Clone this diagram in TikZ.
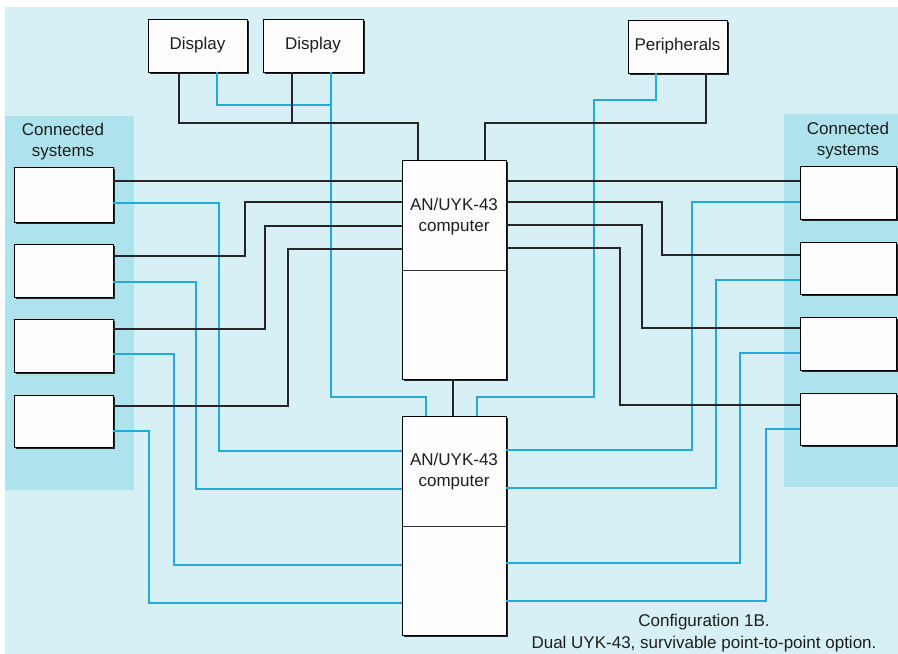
\documentclass[tikz,border=0pt]{standalone}
\usepackage{fontspec}
\setmainfont{Liberation Sans}
\usetikzlibrary{shadows}
\definecolor{bgc}{HTML}{D6F0F6}
\definecolor{panelc}{HTML}{AEE3EE}
\definecolor{bluec}{HTML}{22A9DD}
\definecolor{boxc}{HTML}{FDFDFE}
\definecolor{txtc}{HTML}{1E1E1E}
\begin{document}
\begin{tikzpicture}[x=1pt,y=-1pt,
  sbox/.style={draw=black, line width=0.8pt, fill=boxc, inner sep=0pt,
    drop shadow={shadow xshift=1.8pt, shadow yshift=-1.8pt, fill=black!85, opacity=1},
    font=\fontsize{17}{21}\selectfont, text=txtc, align=center},
  blk/.style={draw=black!85, line width=1.3pt, line join=miter},
  blu/.style={draw=bluec, line width=1.3pt, line join=miter},
  lbl/.style={font=\fontsize{17}{21}\selectfont, text=txtc, align=center, inner sep=0pt}]
\useasboundingbox (0,0) rectangle (898,654);
\fill[white] (0,0) rectangle (898,654);
\fill[bgc] (5,7) rectangle (898,654);
\fill[panelc] (5,116) rectangle (134,490);
\fill[panelc] (784,114) rectangle (898,487);

% top boxes
\node[sbox, minimum width=99pt, minimum height=53pt] (D1) at (197.5,45.5) {Display};
\node[sbox, minimum width=100pt, minimum height=53pt] (D2) at (313,45.5) {Display};
\node[sbox, minimum width=99pt, minimum height=53pt] (P) at (677.5,46.5) {Peripherals};

% computers
\node[sbox, minimum width=104pt, minimum height=219pt] (C1) at (454,269.5) {};
\node[sbox, minimum width=104pt, minimum height=219pt] (C2) at (454,525.5) {};
\draw[line width=0.7pt, black!80] (C1.west |- 0,270) -- (C1.east |- 0,270);
\draw[line width=0.7pt, black!80] (C2.west |- 0,526) -- (C2.east |- 0,526);
\node[lbl] (C1t) at (454,217) {AN/UYK-43\\computer};
\node[lbl] (C2t) at (454,472) {AN/UYK-43\\computer};

% left connected systems
\node[lbl] (LT) at (63,142) {Connected\\systems};
\node[sbox, minimum width=99pt, minimum height=55pt] (L1) at (63.5,194.5) {};
\node[sbox, minimum width=99pt, minimum height=53pt] (L2) at (63.5,270.5) {};
\node[sbox, minimum width=99pt, minimum height=53pt] (L3) at (63.5,345.5) {};
\node[sbox, minimum width=99pt, minimum height=52pt] (L4) at (63.5,421) {};

% right connected systems
\node[lbl] (RT) at (848,141) {Connected\\systems};
\node[sbox, minimum width=96pt, minimum height=53pt] (R1) at (848,192.5) {};
\node[sbox, minimum width=96pt, minimum height=52pt] (R2) at (848,268) {};
\node[sbox, minimum width=96pt, minimum height=53pt] (R3) at (848,343.5) {};
\node[sbox, minimum width=96pt, minimum height=52pt] (R4) at (848,419) {};

% top connections
\draw[blu] (D1.south -| 217,0) |- (331,105);
\draw[blu] (D2.south -| 331,0) |- (426,397) -- (C2.north -| 426,0);
\draw[blu] (P.south -| 656,0) |- (594,100) |- (477,397) -- (C2.north -| 477,0);
\draw[blk] (D1.south -| 179,0) |- (418,123) -- (C1.north -| 418,0);
\draw[blk] (D2.south -| 292,0) -- (292,123);
\draw[blk] (P.south -| 706,0) |- (485,123) -- (C1.north -| 485,0);
\draw[blk] (C1.south -| 453,0) -- (C2.north -| 453,0);

% left blue
\draw[blu] (L1.east |- 0,203) -| (219,451) -- (C2.west |- 0,451);
\draw[blu] (L2.east |- 0,282) -| (196,489) -- (C2.west |- 0,489);
\draw[blu] (L3.east |- 0,354) -| (174,565) -- (C2.west |- 0,565);
\draw[blu] (L4.east |- 0,431) -| (149,603) -- (C2.west |- 0,603);
% right blue
\draw[blu] (R1.west |- 0,202) -| (692,450) -- (C2.east |- 0,450);
\draw[blu] (R2.west |- 0,280) -| (716,488) -- (C2.east |- 0,488);
\draw[blu] (R3.west |- 0,353) -| (740,563) -- (C2.east |- 0,563);
\draw[blu] (R4.west |- 0,429) -| (766,601) -- (C2.east |- 0,601);

% left black
\draw[blk] (L1.east |- 0,181) -- (C1.west |- 0,181);
\draw[blk] (L2.east |- 0,256) -| (245,202) -- (C1.west |- 0,202);
\draw[blk] (L3.east |- 0,329) -| (265,226) -- (C1.west |- 0,226);
\draw[blk] (L4.east |- 0,406) -| (288,249) -- (C1.west |- 0,249);
% right black
\draw[blk] (C1.east |- 0,181) -- (R1.west |- 0,181);
\draw[blk] (C1.east |- 0,202) -| (662,255) -- (R2.west |- 0,255);
\draw[blk] (C1.east |- 0,225) -| (642,328) -- (R3.west |- 0,328);
\draw[blk] (C1.east |- 0,248) -| (620,405) -- (R4.west |- 0,405);

% caption
\node[lbl, font=\fontsize{17}{22}\selectfont] (cap) at (704,633) {Configuration 1B.\\Dual UYK-43, survivable point-to-point option.};
\end{tikzpicture}
\end{document}
